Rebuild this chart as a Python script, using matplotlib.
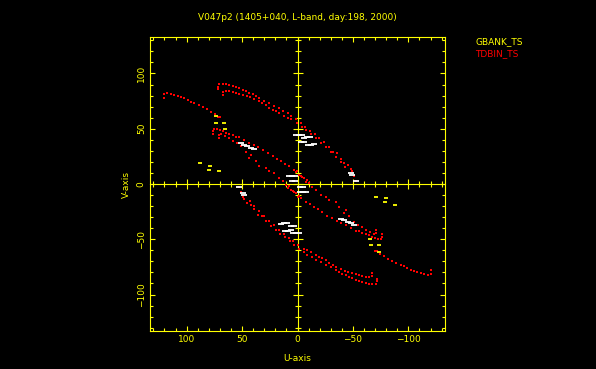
import numpy as np
import matplotlib as mpl; mpl.use('Agg')
import matplotlib.pyplot as plt
from matplotlib.ticker import MultipleLocator

plt.rcParams.update({'font.family': 'DejaVu Sans', 'font.size': 6.5})

TITLE = 'V047p2 (1405+040, L-band, day:198, 2000)'

# TDBIN_TS tracks, u/v (one half; conjugate (-u,-v) drawn too)
arc1_u = [120.1, 120.1, 118.0, 114.1, 111.1, 108.1, 105.0, 102.1, 99.1, 96.0, 93.1, 89.2, 85.6, 81.6, 78.0, 74.1, 72.1, 69.6]
arc1_v = [78.0, 81.4, 82.0, 81.4, 80.5, 79.5, 78.4, 77.5, 75.9, 74.4, 73.0, 71.2, 69.4, 67.6, 65.4, 63.1, 60.9, 60.9]
arc2a_u = [72.1, 72.1, 71.2, 67.6, 64.5, 61.5, 58.6, 55.5, 52.5, 49.5, 46.5, 43.5, 40.5, 37.5, 34.5, 30.0, 25.5, 21.0, 17.1, 13.5,
           9.0, 5.7, 1.4, -3.1, -6.9, -11.2, -15.9, -19.5, -24.1, -28.6, -32.2, -36.0, -39.1, -42.1, -45.9, -48.1, -49.5, -51.1, -52.6]
arc2a_v = [85.6, 88.1, 90.4, 90.4, 90.1, 89.5, 88.6, 87.4, 86.5, 85.0, 84.3, 82.5, 81.4, 79.5, 77.7, 75.5, 73.2, 71.0, 68.7, 66.0,
           63.8, 61.1, 58.6, 55.0, 51.4, 48.0, 45.3, 41.4, 38.4, 33.9, 29.4, 27.9, 22.5, 18.9, 17.4, 13.5, 11.4, 6.8, 2.3]
arc2b_u = [66.9, 66.9, 64.5, 61.5, 58.6, 55.5, 52.5, 49.5, 45.9, 42.9, 39.0, 35.1, 31.8, 28.5, 25.5, 22.5, 19.5, 16.5, 12.0, 9.0,
           5.9, 0.9, -4.0, -7.8, -12.3, -16.8, -21.4, -25.9, -30.4, -34.9, -39.4, -43.0]
arc2b_v = [80.9, 83.4, 84.3, 84.3, 83.4, 82.5, 81.4, 80.5, 79.5, 78.4, 76.8, 74.8, 73.2, 71.4, 69.2, 67.4, 65.6, 64.0, 61.5, 60.0,
           58.4, 55.0, 51.4, 49.0, 45.3, 41.3, 37.2, 33.2, 29.1, 24.6, 20.1, 15.6]
arc3a_u = [76.6, 76.6, 75.0, 72.3, 69.6, 67.6, 64.5, 61.5, 58.6, 55.5, 52.5, 48.0, 43.5, 39.0, 36.0, 31.5, 27.0, 22.5, 18.9, 15.0,
           11.1, 7.5, 3.6, 0.9, -3.1, -6.0, -9.0]
arc3a_v = [44.9, 48.0, 49.4, 49.5, 48.9, 48.3, 46.5, 45.3, 44.1, 42.9, 42.3, 39.9, 37.5, 35.4, 33.3, 30.9, 28.5, 25.5, 22.5, 20.4,
           18.3, 15.9, 12.9, 11.4, 7.5, 5.4, 3.9]
arc3b_u = [71.2, 71.2, 68.7, 65.1, 61.5, 57.9, 54.3, 50.7, 46.5, 42.0, 43.5, 37.5, 34.5, 28.5, 25.5, 21.0, 16.5, 13.5, 10.5, 7.5, 4.5, 1.4, -1.5]
arc3b_v = [41.7, 44.4, 45.3, 43.5, 41.3, 39.0, 36.8, 34.5, 29.4, 26.4, 23.4, 20.4, 15.9, 14.4, 11.4, 9.9, 5.4, 2.3, -0.6, -2.2, -6.7, -8.1, -11.2]

# white (flagged / other) points
white_u = [51.0, 48.0, 45.3, 42.0, 39.0, 1.2, -1.5, -4.2, -6.0, -8.7, -11.4, -3.3, -6.0, -9.6, -12.3, -15.0,
           -48.1, -49.5, -52.9, 8.0, 5.4, 2.5, 5.4, 2.5]
white_v = [36.9, 35.4, 34.1, 33.0, 31.8, 44.4, 44.4, 44.4, 42.0, 42.2, 42.3, 38.4, 38.4, 35.4, 35.7, 35.9,
           10.2, 8.4, 3.0, 6.8, 6.8, 6.8, 2.3, 2.3]

# GBANK_TS points
gbank_u = [73.5, 73.9, 66.0, 65.1, 87.9, 78.6, 79.5, 70.5]
gbank_v = [61.3, 55.0, 55.5, 49.5, 18.9, 16.5, 12.9, 11.4]

YEL = '#ffff00'; RED = '#ff0000'
fig = plt.figure(figsize=(5.96, 3.69), dpi=100, facecolor='k')
pos = [150/596, 38/369, 295/596, 294/369]

# centre cross with ticks
ax2 = fig.add_axes(pos, facecolor='k')
ax2.set_xlim(133, -133); ax2.set_ylim(-133, 133)
for s in ['top', 'right']: ax2.spines[s].set_visible(False)
for s in ['left', 'bottom']:
    ax2.spines[s].set_position(('data', 0)); ax2.spines[s].set_color(YEL); ax2.spines[s].set_linewidth(0.8)
for a in (ax2.xaxis, ax2.yaxis):
    a.set_major_locator(MultipleLocator(50)); a.set_minor_locator(MultipleLocator(10))
ax2.tick_params(which='both', direction='inout', colors=YEL, width=0.8, labelbottom=False, labelleft=False)
ax2.tick_params(which='major', length=6.5); ax2.tick_params(which='minor', length=4.3)

ax = fig.add_axes(pos, facecolor='none')
ax.set_xlim(133, -133); ax.set_ylim(-133, 133)
for s in ax.spines.values(): s.set_color(YEL); s.set_linewidth(0.8)
for a in (ax.xaxis, ax.yaxis):
    a.set_major_locator(MultipleLocator(50)); a.set_minor_locator(MultipleLocator(10))
ax.tick_params(which='both', direction='in', top=True, right=True, colors=YEL, width=0.8, pad=3)
ax.tick_params(which='major', length=3.4); ax.tick_params(which='minor', length=1.9)
ax.tick_params(axis='y', labelrotation=90)
for t in ax.get_yticklabels(): t.set_va('center')

for uu, vv in [(arc1_u, arc1_v), (arc2a_u, arc2a_v), (arc2b_u, arc2b_v), (arc3a_u, arc3a_v), (arc3b_u, arc3b_v)]:
    uu = np.array(uu); vv = np.array(vv)
    ax.plot(np.r_[uu, -uu], np.r_[vv, -vv], 's', color=RED, ms=1.5, mew=0, ls='none')
wu = np.array(white_u); wv = np.array(white_v)
ax.plot(np.r_[wu, -wu], np.r_[wv, -wv], '_', color='w', ms=4, mew=1.3, ls='none')
gu = np.array(gbank_u); gv = np.array(gbank_v)
ax.plot(np.r_[gu, -gu], np.r_[gv, -gv], '_', color=YEL, ms=2.5, mew=1.3, ls='none')

ax.set_xlabel('U-axis', color=YEL, labelpad=7)
ax.set_ylabel('V-axis', color=YEL, labelpad=4)
fig.text(297.5/596, 1-17/369, TITLE, color=YEL, ha='center', va='center')
fig.text(475/596, 1-42/369, 'GBANK_TS', color=YEL, ha='left', va='center')
fig.text(475/596, 1-54/369, 'TDBIN_TS', color=RED, ha='left', va='center')

plt.savefig('out.png', dpi=100, facecolor='k')
